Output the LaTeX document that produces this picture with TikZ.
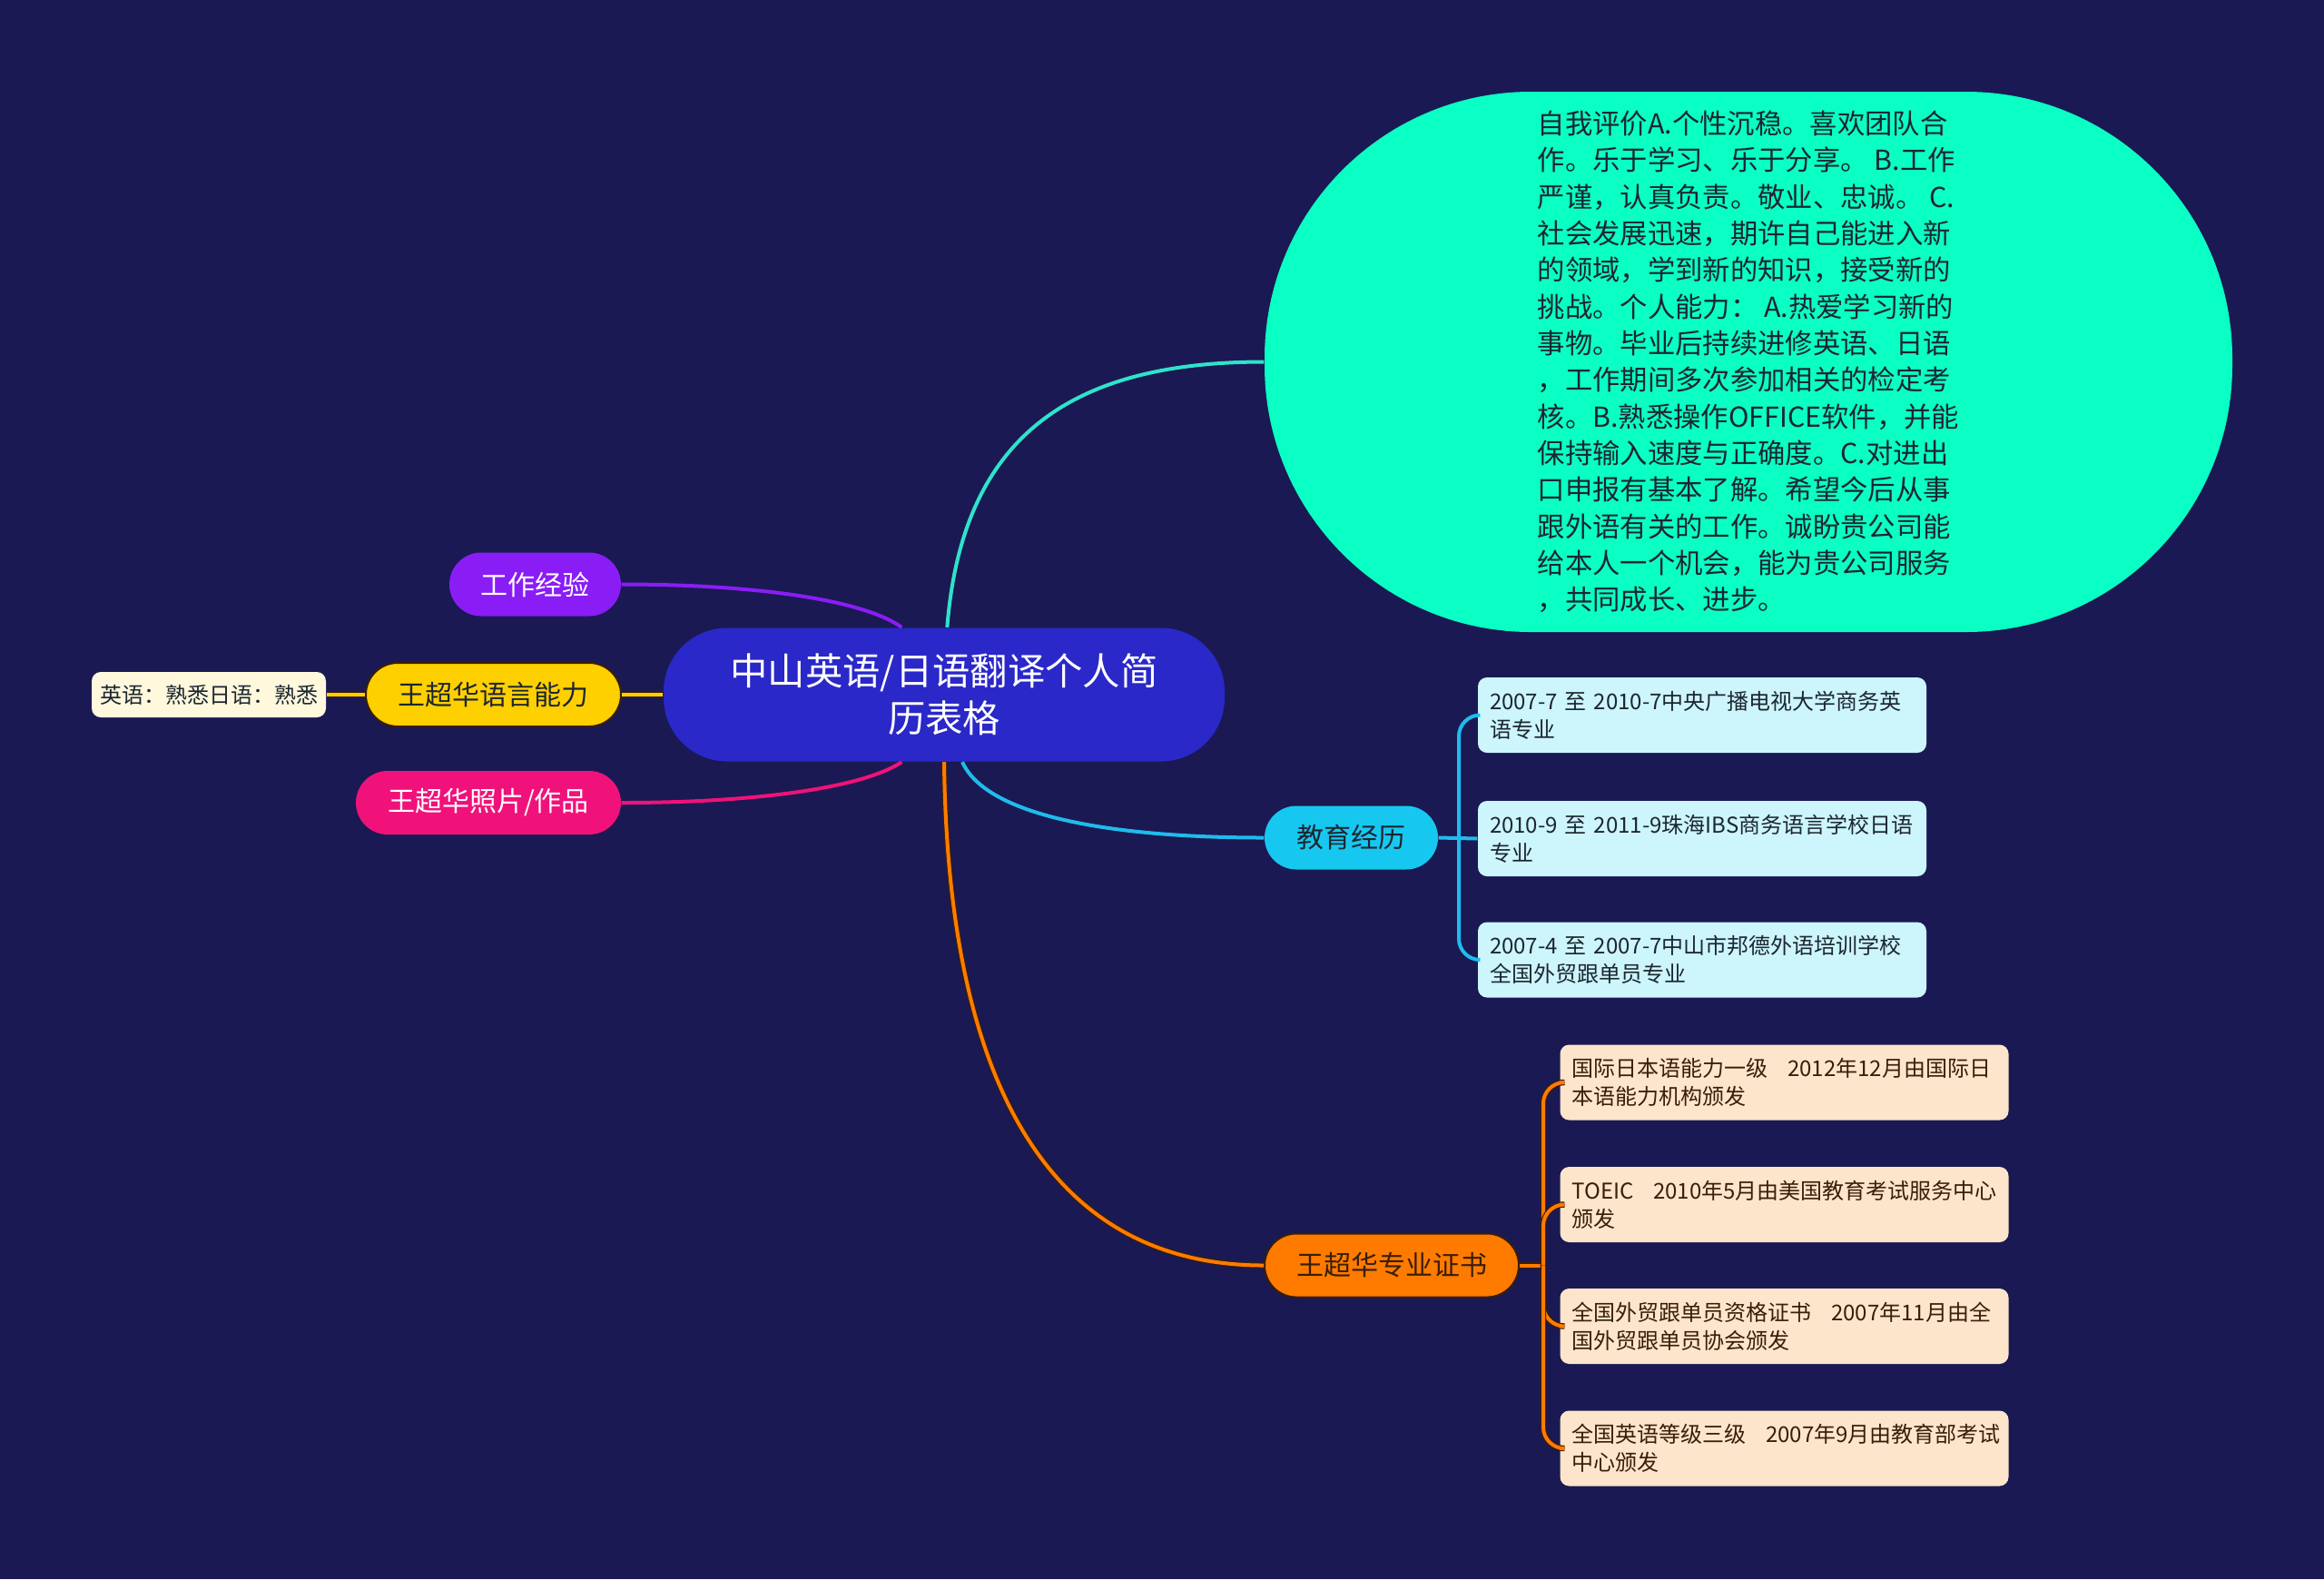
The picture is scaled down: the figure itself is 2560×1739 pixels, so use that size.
\documentclass[tikz,border=0pt]{standalone}
\usepackage{fontspec}
\setmainfont{Noto Sans CJK SC}
\usetikzlibrary{positioning}
\definecolor{bgnavy}{HTML}{1A1953}
\definecolor{rootblue}{HTML}{2A28C8}
\definecolor{selfgreen}{HTML}{0AFFC4}
\definecolor{selfline}{HTML}{2EE3CC}
\definecolor{educyan}{HTML}{16C8F0}
\definecolor{eduline}{HTML}{1EBCEC}
\definecolor{eduleaf}{HTML}{CDF5FC}
\definecolor{certorange}{HTML}{FF7B00}
\definecolor{certleaf}{HTML}{FDE5CB}
\definecolor{workpurple}{HTML}{8A1DF5}
\definecolor{langyellow}{HTML}{FFD000}
\definecolor{langleaf}{HTML}{FFF8DC}
\definecolor{photopink}{HTML}{F0127A}
\definecolor{edgedark}{HTML}{3A1E08}
\definecolor{inkdark}{HTML}{1C2630}

\begin{document}
\begin{tikzpicture}[x=0.3pt,y=-0.3pt,
box/.style={inner sep=0pt,align=center},
pill/.style={box,rounded corners=10.5pt,minimum height=21pt,font=\fontsize{9}{11}\selectfont},
leaf/.style={box,rounded corners=3pt,align=left,inner xsep=3.9pt,text width=140.4pt,
  minimum height=24.9pt,font=\fontsize{7.2}{9.3}\selectfont,text=inkdark},
link/.style={line width=1.2pt},
edged/.style={preaction={draw=edgedark,line width=1.9pt}}]
\fill[bgnavy] (0,0) rectangle (2560,1739);
% root and the big self-assessment bubble
\node[box,fill=rootblue,text=white,rounded corners=21pt,minimum width=185.4pt,minimum height=44.1pt,
  font=\fontsize{12.4}{15.6}\selectfont] (ctr) at (1040,765) {中山英语/日语翻译个人简\\历表格};
\node[box,align=left,fill=selfgreen,text=inkdark,rounded corners=88pt,minimum width=319.8pt,minimum height=178.5pt,
  font=\fontsize{9.1}{12.1}\selectfont] (self) at (1926,398.5) {自我评价A.个性沉稳。喜欢团队合\\
作。乐于学习、乐于分享。 B.工作\\
严谨，认真负责。敬业、忠诚。 C.\\
社会发展迅速，期许自己能进入新\\
的领域，学到新的知识，接受新的\\
挑战。个人能力： A.热爱学习新的\\
事物。毕业后持续进修英语、日语\\
，工作期间多次参加相关的检定考\\
核。B.熟悉操作OFFICE软件，并能\\
保持输入速度与正确度。C.对进出\\
口申报有基本了解。希望今后从事\\
跟外语有关的工作。诚盼贵公司能\\
给本人一个机会，能为贵公司服务\\
，共同成长、进步。};
% left side
\node[pill,fill=workpurple,text=white,minimum width=56.7pt] (work) at (589.5,643.5) {工作经验};
\node[pill,fill=langyellow,draw=edgedark,semithick,text=inkdark,minimum width=84.3pt] (lang) at (543.5,765) {王超华语言能力};
\node[box,fill=langleaf,text=inkdark,rounded corners=3pt,minimum width=77.4pt,minimum height=15pt,
  font=\fontsize{7.2}{9}\selectfont] (lleaf) at (230,765) {英语：熟悉日语：熟悉};
\node[pill,fill=photopink,text=white,minimum width=87.6pt] (photo) at (538,884) {王超华照片/作品};
% education
\node[pill,fill=educyan,text=inkdark,minimum width=57.3pt] (edu) at (1488.5,922.5) {教育经历};
\node[leaf,fill=eduleaf] (e1) at (1875,787.5) {2007-7 至 2010-7中央广播电视大学商务英\\语专业};
\node[leaf,fill=eduleaf] (e2) at (1875,923.5) {2010-9 至 2011-9珠海IBS商务语言学校日语\\专业};
\node[leaf,fill=eduleaf] (e3) at (1875,1057) {2007-4 至 2007-7中山市邦德外语培训学校\\全国外贸跟单员专业};
\coordinate (ebus) at (1607,922.5);
% certificates
\node[pill,fill=certorange,draw=edgedark,semithick,text=edgedark,minimum width=84pt] (cert) at (1533,1393.5) {王超华专业证书};
\node[leaf,fill=certleaf,text=edgedark] (c1) at (1965.5,1192) {\mbox{国际日本语能力一级\hspace{0.9em}2012年12月由国际日}\\本语能力机构颁发};
\node[leaf,fill=certleaf,text=edgedark] (c2) at (1965.5,1326.5) {\mbox{TOEIC\hspace{0.9em}2010年5月由美国教育考试服务中心}\\颁发};
\node[leaf,fill=certleaf,text=edgedark] (c3) at (1965.5,1460.5) {\mbox{全国外贸跟单员资格证书\hspace{0.9em}2007年11月由全}\\国外贸跟单员协会颁发};
\node[leaf,fill=certleaf,text=edgedark] (c4) at (1965.5,1595) {\mbox{全国英语等级三级\hspace{0.9em}2007年9月由教育部考试}\\中心颁发};
\coordinate (cbus) at (1700,1393.5);
% connectors
\draw[link,workpurple] ([xshift=-14pt]ctr.north) .. controls (950,660) and (830,643.5) .. (work.east);
\draw[link,langyellow,edged] (ctr.west) -- (lang.east);
\draw[link,langyellow,edged] (lang.west) -- (lleaf.east);
\draw[link,photopink] ([xshift=-14pt]ctr.south) .. controls (950,868) and (830,884) .. (photo.east);
\draw[link,selfline] ([xshift=1pt]ctr.north) .. controls (1060,480) and (1180,398.5) .. (self.west);
\draw[link,eduline] ([xshift=6pt]ctr.south) .. controls (1090,905) and (1250,922.5) .. (edu.west);
\draw[link,certorange,edged] (ctr.south) .. controls (1045,1260) and (1200,1393.5) .. (cert.west);
\draw[link,eduline] (edu.east) -- (e2.west);
\foreach \k in {e1,e3} \draw[link,eduline,rounded corners=7pt] (ebus) |- (\k.west);
\draw[link,certorange,edged] (cert.east) -- (cbus);
\foreach \k in {c1,c2,c3,c4} \draw[link,certorange,edged,rounded corners=7pt] (cbus) |- (\k.west);
\end{tikzpicture}
\end{document}
